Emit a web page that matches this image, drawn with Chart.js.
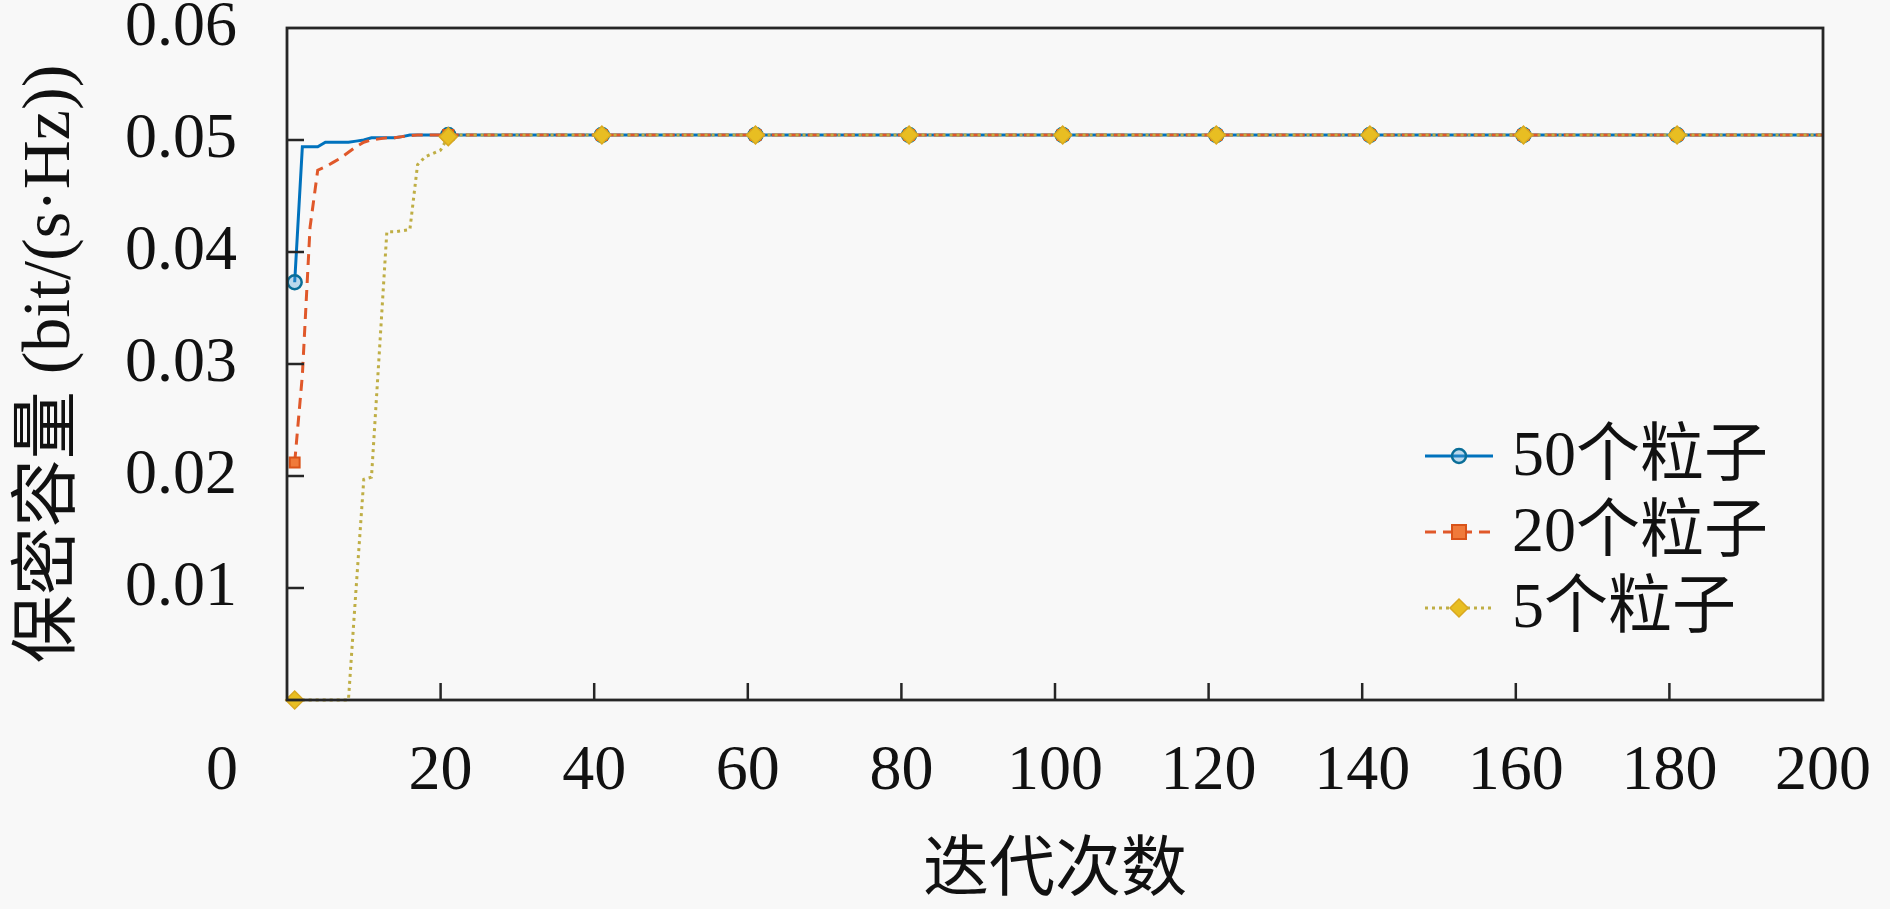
<!DOCTYPE html>
<html>
<head>
<meta charset="utf-8">
<script src="https://cdn.jsdelivr.net/npm/chart.js@4.4.1/dist/chart.umd.min.js"></script>
<style>
  html, body { margin: 0; padding: 0; background: #f8f8f8; }
  canvas { display: block; }
</style>
</head>
<body>
<canvas id="c" width="1890" height="909"></canvas>
<script>
// ---- data ----
const seriesLabels = ['50个粒子', '20个粒子', '5个粒子'];
const iterations = [1, 2, 3, 4, 5, 6, 7, 8, 9, 10, 11, 12, 13, 14, 15, 16, 17, 18, 19, 20, 21, 22,
                    41, 61, 81, 101, 121, 141, 161, 181, 200];
const cap50 = [0.0373, 0.0494, 0.0494, 0.0494, 0.0498, 0.0498, 0.0498, 0.0498, 0.0499, 0.0500, 0.0502,
               0.0502, 0.0502, 0.0502, 0.0503, 0.05045, 0.05045, 0.05045, 0.05045, 0.05045, 0.05045, 0.05045,
               0.05045, 0.05045, 0.05045, 0.05045, 0.05045, 0.05045, 0.05045, 0.05045, 0.05045];
const cap20 = [0.0212, 0.0290, 0.0422, 0.0473, 0.0476, 0.0480, 0.0484, 0.0489, 0.0494, 0.0498, 0.0500,
               0.0501, 0.0502, 0.0502, 0.0503, 0.0504, 0.05045, 0.05045, 0.05045, 0.05045, 0.05045, 0.05045,
               0.05045, 0.05045, 0.05045, 0.05045, 0.05045, 0.05045, 0.05045, 0.05045, 0.05045];
const cap5  = [0, 0, 0, 0, 0, 0, 0, 0, 0.0100, 0.0197, 0.0199,
               0.0308, 0.0418, 0.0418, 0.0419, 0.0420, 0.0478, 0.0485, 0.0488, 0.0491, 0.0503, 0.05045,
               0.05045, 0.05045, 0.05045, 0.05045, 0.05045, 0.05045, 0.05045, 0.05045, 0.05045];
const xTicks = [0, 20, 40, 60, 80, 100, 120, 140, 160, 180, 200];
const yTicks = [0, 0.01, 0.02, 0.03, 0.04, 0.05, 0.06];
const xTitle = '迭代次数';
const yTitle = '保密容量 (bit/(s·Hz))';
const cornerLabel = '0';

const SERIF = "'Liberation Serif', 'Noto Sans CJK SC', serif";
const TEXT = '#111111';
const AXIS = '#262626';

function pts(vals) { return iterations.map((x, i) => ({ x: x, y: vals[i] })); }
const markerAt = (r) => (ctx) => (ctx.raw && (ctx.raw.x - 1) % 20 === 0 ? r : 0);

const datasets = [
  { label: seriesLabels[0], data: pts(cap50), borderColor: '#0072BD', borderWidth: 3,
    pointStyle: 'circle', pointRadius: markerAt(7), pointBorderWidth: 2.5,
    pointBorderColor: '#0a6e98', pointBackgroundColor: 'rgba(80,160,215,0.35)', order: 2 },
  { label: seriesLabels[1], data: pts(cap20), borderColor: '#E0582A', borderWidth: 3, borderDash: [11, 7],
    pointStyle: 'rect', pointRadius: markerAt(7), pointBorderWidth: 2,
    pointBorderColor: '#D95319', pointBackgroundColor: '#F07A3A', order: 1 },
  { label: seriesLabels[2], data: pts(cap5), borderColor: '#BFAE45', borderWidth: 3, borderDash: [3, 4],
    pointStyle: 'rectRot', pointRadius: markerAt(9), pointBorderWidth: 1.5,
    pointBorderColor: '#D9A820', pointBackgroundColor: '#E8BE22', order: 0 }
];
datasets.forEach(d => { d.clip = false; d.fill = false; d.tension = 0; d.pointHoverRadius = 0; });

const X_TICK_PAD = 34, X_TICK_FONT = 64, X_TICK_LH = 1.2;
const Y_TICK_PAD = 50;

function drawMarker(ctx, style, x, y, r, fill, stroke, lw) {
  ctx.save();
  ctx.beginPath();
  if (style === 'circle') ctx.arc(x, y, r, 0, Math.PI * 2);
  else if (style === 'rect') ctx.rect(x - r, y - r, 2 * r, 2 * r);
  else { ctx.moveTo(x, y - r); ctx.lineTo(x + r, y); ctx.lineTo(x, y + r); ctx.lineTo(x - r, y); ctx.closePath(); }
  ctx.setLineDash([]);
  ctx.fillStyle = fill; ctx.fill();
  ctx.lineWidth = lw; ctx.strokeStyle = stroke; ctx.stroke();
  ctx.restore();
}

const framePlugin = {
  id: 'frame',
  beforeDraw(chart) {
    const c = chart.ctx;
    c.save(); c.fillStyle = '#f8f8f8'; c.fillRect(0, 0, chart.width, chart.height); c.restore();
  },
  afterDatasetsDraw(chart) {
    const c = chart.ctx, a = chart.chartArea;
    const xs = chart.scales.x, ys = chart.scales.y;
    c.save();
    c.strokeStyle = AXIS; c.lineWidth = 2.8; c.setLineDash([]);
    c.strokeRect(a.left, a.top, a.right - a.left, a.bottom - a.top);
    c.lineWidth = 2.5;
    const tl = 17;
    xTicks.forEach(v => {
      if (v === xs.min || v === xs.max) return;
      const px = xs.getPixelForValue(v);
      c.beginPath(); c.moveTo(px, a.bottom); c.lineTo(px, a.bottom - tl); c.stroke();
    });
    yTicks.forEach(v => {
      if (v === ys.min || v === ys.max) return;
      const py = ys.getPixelForValue(v);
      c.beginPath(); c.moveTo(a.left, py); c.lineTo(a.left + tl, py); c.stroke();
    });
    // corner "0" label
    c.fillStyle = TEXT;
    c.font = X_TICK_FONT + 'px ' + SERIF;
    c.textAlign = 'right'; c.textBaseline = 'middle';
    c.fillText(cornerLabel, ys.right - Y_TICK_PAD + 1, xs.top + X_TICK_PAD + X_TICK_FONT * X_TICK_LH / 2);
    c.restore();
  },
  afterDraw(chart) {
    // legend (inside plot, lower right)
    const c = chart.ctx, a = chart.chartArea;
    const x0 = a.right - 398, y0 = a.top + 428, rowH = 76;
    c.save();
    chart.data.datasets.forEach((d, i) => {
      const y = y0 + i * rowH;
      c.beginPath();
      c.strokeStyle = d.borderColor; c.lineWidth = d.borderWidth;
      c.setLineDash(d.borderDash || []);
      c.moveTo(x0, y); c.lineTo(x0 + 68, y); c.stroke();
      const r = (d.pointStyle === 'rectRot') ? 9 : 7;
      drawMarker(c, d.pointStyle, x0 + 34, y, r, d.pointBackgroundColor, d.pointBorderColor, d.pointBorderWidth);
      c.fillStyle = TEXT;
      c.font = '64px ' + SERIF;
      c.textAlign = 'left'; c.textBaseline = 'middle';
      c.fillText(d.label, x0 + 87, y + 2);
    });
    c.restore();
  }
};

new Chart(document.getElementById('c'), {
  type: 'line',
  data: { datasets: datasets },
  options: {
    responsive: false,
    devicePixelRatio: 1,
    animation: false,
    events: [],
    layout: { padding: { left: 0, right: 67, top: 28, bottom: 0 } },
    plugins: { legend: { display: false }, tooltip: { enabled: false } },
    scales: {
      x: {
        type: 'linear', min: 0, max: 200,
        afterBuildTicks: (s) => { s.ticks = xTicks.map(v => ({ value: v })); },
        afterFit: (s) => { s.height = 209; s.paddingLeft = 0; s.paddingRight = 0; },
        grid: { display: false, drawTicks: false },
        border: { display: false },
        ticks: {
          autoSkip: false, maxRotation: 0, padding: X_TICK_PAD, color: TEXT,
          font: { family: SERIF, size: X_TICK_FONT, lineHeight: X_TICK_LH },
          callback: (v) => (v === 0 ? '' : String(v))
        },
        title: { display: true, text: xTitle, color: TEXT,
                 font: { family: SERIF, size: 66, lineHeight: 1.0 }, padding: { top: 0, bottom: 3 } }
      },
      y: {
        type: 'linear', min: 0, max: 0.06,
        afterBuildTicks: (s) => { s.ticks = yTicks.map(v => ({ value: v })); },
        afterFit: (s) => { s.width = 287; s.paddingTop = 0; s.paddingBottom = 0; },
        grid: { display: false, drawTicks: false },
        border: { display: false },
        ticks: {
          autoSkip: false, padding: Y_TICK_PAD, color: TEXT,
          font: { family: SERIF, size: 64, lineHeight: 0.8 },
          callback: (v) => (v === 0 ? '' : v.toFixed(2))
        },
        title: { display: true, text: yTitle, color: TEXT,
                 font: { family: SERIF, size: 68, lineHeight: 1.0 }, padding: { top: 17, bottom: 0 } }
      }
    }
  },
  plugins: [framePlugin]
});
</script>
</body>
</html>
